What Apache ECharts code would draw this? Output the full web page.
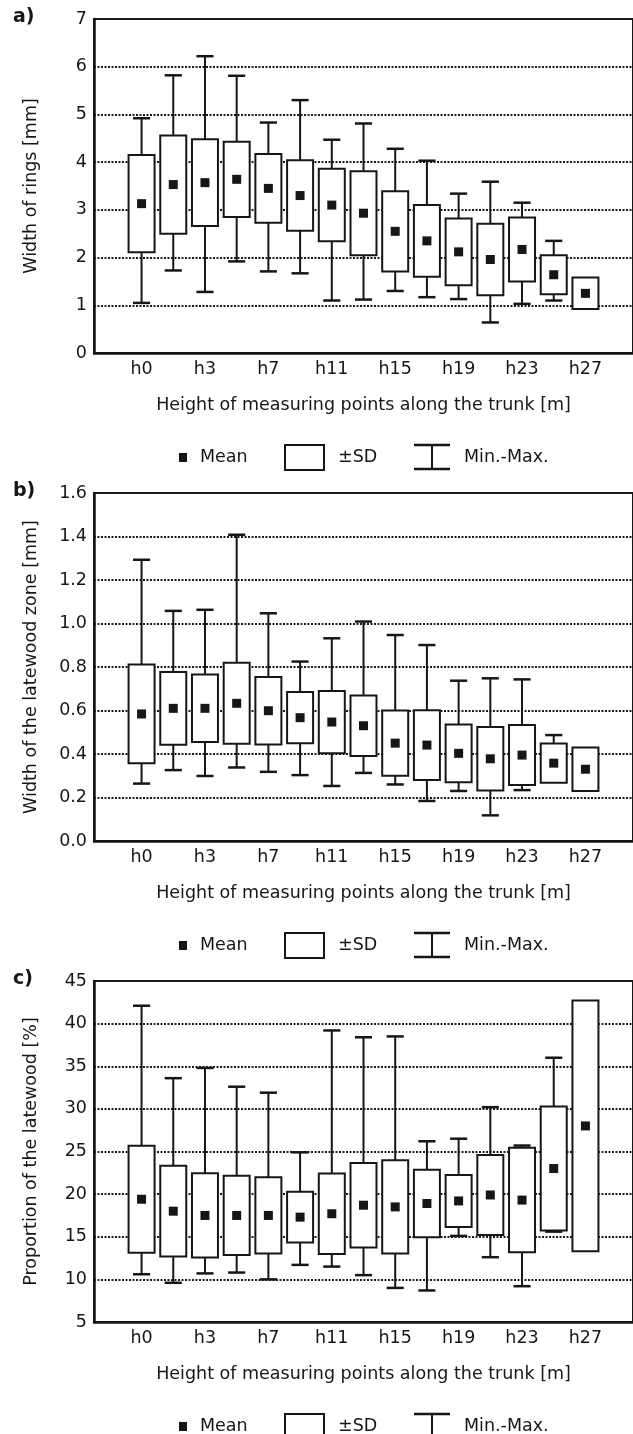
<!DOCTYPE html>
<html>
<head>
<meta charset="utf-8">
<title>Ring width and latewood along the trunk</title>
<script src="https://cdn.jsdelivr.net/npm/echarts@6/dist/echarts.min.js"></script>
<style>
  html, body { margin: 0; padding: 0; background: #fff; }
  #chart { width: 633px; height: 1434px; }
</style>
</head>
<body>
<div id="chart"></div>
<script>
// measuring heights along the trunk
const categories = ['h0', 'h1', 'h3', 'h5', 'h7', 'h9', 'h11', 'h13', 'h15', 'h17', 'h19', 'h21', 'h23', 'h25', 'h27']

// a) width of rings [mm]
const ringMean = [3.13, 3.53, 3.57, 3.64, 3.45, 3.30, 3.10, 2.93, 2.55, 2.35, 2.12, 1.96, 2.17, 1.64, 1.25]
const ringSd = [1.02, 1.03, 0.91, 0.79, 0.72, 0.74, 0.76, 0.88, 0.84, 0.75, 0.70, 0.75, 0.67, 0.41, 0.33]
const ringMin = [1.05, 1.73, 1.28, 1.92, 1.71, 1.67, 1.10, 1.12, 1.30, 1.17, 1.13, 0.64, 1.03, 1.10, null]
const ringMax = [4.92, 5.82, 6.22, 5.81, 4.83, 5.30, 4.47, 4.81, 4.28, 4.03, 3.34, 3.59, 3.15, 2.35, null]

// b) width of the latewood zone [mm]
const lateMean = [0.584, 0.610, 0.610, 0.633, 0.599, 0.567, 0.547, 0.530, 0.450, 0.441, 0.403, 0.378, 0.395, 0.358, 0.330]
const lateSd = [0.227, 0.167, 0.155, 0.186, 0.155, 0.118, 0.143, 0.139, 0.150, 0.160, 0.133, 0.146, 0.138, 0.090, 0.100]
const lateMin = [0.264, 0.326, 0.299, 0.338, 0.318, 0.303, 0.253, 0.313, 0.260, 0.184, 0.230, 0.118, 0.234, 0.276, null]
const lateMax = [1.293, 1.058, 1.063, 1.408, 1.047, 0.825, 0.932, 1.009, 0.947, 0.901, 0.737, 0.748, 0.743, 0.487, null]

// c) proportion of the latewood [%]
const propMean = [19.4, 18.0, 17.5, 17.5, 17.5, 17.3, 17.7, 18.7, 18.5, 18.9, 19.2, 19.9, 19.3, 23.0, 28.0]
const propSd = [6.27, 5.33, 4.94, 4.65, 4.47, 2.97, 4.72, 4.96, 5.46, 3.97, 3.05, 4.69, 6.13, 7.28, 14.7]
const propMin = [10.6, 9.6, 10.7, 10.8, 10.0, 11.7, 11.5, 10.5, 9.0, 8.7, 15.1, 12.6, 9.2, 15.6, null]
const propMax = [42.1, 33.6, 34.8, 32.6, 31.9, 24.9, 39.2, 38.4, 38.5, 26.2, 26.5, 30.2, 25.7, 36.0, null]

const FONT = 'DejaVu Sans'
const INK = '#161616'
const FS = 17.5

// padded axis: one empty slot on each side like the original frame
const axisCats = [''].concat(categories, [''])

const panels = [
  { tag: 'a)', title: 'Width of rings [mm]', top: 19, height: 334, min: 0, max: 7, step: 1, digits: 0,
    mean: ringMean, sd: ringSd, lo: ringMin, hi: ringMax },
  { tag: 'b)', title: 'Width of the latewood zone [mm]', top: 493, height: 348, min: 0, max: 1.6, step: 0.2, digits: 1,
    mean: lateMean, sd: lateSd, lo: lateMin, hi: lateMax },
  { tag: 'c)', title: 'Proportion of the latewood [%]', top: 981, height: 341, min: 5, max: 45, step: 5, digits: 0,
    mean: propMean, sd: propSd, lo: propMin, hi: propMax }
]

function renderBox (params, api) {
  const i = api.value(0)
  const mean = api.value(1)
  const sd = api.value(2)
  const lo = api.value(3)
  const hi = api.value(4)
  const band = api.size([1, 0])[0]
  const boxW = band * 0.82
  const capW = band * 0.54
  const dot = 9
  const c = api.coord([i, mean])
  const yTop = api.coord([i, mean + sd])[1]
  const yBot = api.coord([i, mean - sd])[1]
  const stroke = { stroke: INK, lineWidth: 2 }
  const kids = []
  if (hi != null && !isNaN(hi)) {
    const y = api.coord([i, hi])[1]
    kids.push({ type: 'line', shape: { x1: c[0], y1: yTop, x2: c[0], y2: y }, style: stroke })
    kids.push({ type: 'line', shape: { x1: c[0] - capW / 2, y1: y, x2: c[0] + capW / 2, y2: y }, style: { stroke: INK, lineWidth: 2.5 } })
  }
  if (lo != null && !isNaN(lo)) {
    const y = api.coord([i, lo])[1]
    kids.push({ type: 'line', shape: { x1: c[0], y1: yBot, x2: c[0], y2: y }, style: stroke })
    kids.push({ type: 'line', shape: { x1: c[0] - capW / 2, y1: y, x2: c[0] + capW / 2, y2: y }, style: { stroke: INK, lineWidth: 2.5 } })
  }
  kids.push({ type: 'rect', shape: { x: c[0] - boxW / 2, y: yTop, width: boxW, height: yBot - yTop },
    style: { fill: '#fff', stroke: INK, lineWidth: 2 } })
  kids.push({ type: 'rect', shape: { x: c[0] - dot / 2, y: c[1] - dot / 2, width: dot, height: dot },
    style: { fill: INK } })
  return { type: 'group', children: kids }
}

function legendRow (cy) {
  const txt = (x, s) => ({ type: 'text', x: x, y: cy, style: { text: s, fill: INK, font: FS + 'px "' + FONT + '"', verticalAlign: 'middle' } })
  return [
    { type: 'rect', shape: { x: 179, y: cy - 4, width: 8, height: 9 }, style: { fill: INK } },
    txt(200, 'Mean'),
    { type: 'rect', shape: { x: 285, y: cy - 12, width: 39, height: 25 }, style: { fill: 'none', stroke: INK, lineWidth: 2 } },
    txt(338, '±SD'),
    { type: 'polyline', shape: { points: [[414, cy - 12], [450, cy - 12]] }, style: { stroke: INK, lineWidth: 2.5 } },
    { type: 'polyline', shape: { points: [[432, cy - 12], [432, cy + 12]] }, style: { stroke: INK, lineWidth: 2 } },
    { type: 'polyline', shape: { points: [[414, cy + 12], [450, cy + 12]] }, style: { stroke: INK, lineWidth: 2.5 } },
    txt(464, 'Min.-Max.')
  ]
}

const grid = []
const xAxis = []
const yAxis = []
const series = []
const graphic = []

panels.forEach((p, k) => {
  grid.push({ left: 94, top: p.top, width: 543, height: p.height, show: true, borderColor: INK, borderWidth: 2, backgroundColor: '#fff' })
  xAxis.push({
    type: 'category', gridIndex: k, data: axisCats, boundaryGap: true, position: 'bottom',
    axisLine: { lineStyle: { color: INK, width: 2.5 } },
    axisTick: { inside: true, alignWithLabel: true, interval: 0, length: 4, lineStyle: { color: INK, width: 1.5 } },
    axisLabel: { interval: (idx) => idx % 2 === 1, margin: 7, color: INK, fontFamily: FONT, fontSize: FS },
    name: 'Height of measuring points along the trunk [m]', nameLocation: 'middle', nameGap: 43,
    nameTextStyle: { color: INK, fontFamily: FONT, fontSize: FS }
  })
  xAxis.push({
    type: 'category', gridIndex: k, data: axisCats, boundaryGap: true, position: 'top',
    axisLine: { show: false },
    axisTick: { inside: true, alignWithLabel: true, interval: 0, length: 4, lineStyle: { color: INK, width: 1.5 } },
    axisLabel: { show: false }
  })
  yAxis.push({
    type: 'value', gridIndex: k, min: p.min, max: p.max, interval: p.step,
    axisLine: { show: true, lineStyle: { color: INK, width: 2.5 } },
    axisTick: { show: false },
    axisLabel: { margin: 7, color: INK, fontFamily: FONT, fontSize: FS, formatter: (v) => v.toFixed(p.digits) },
    splitLine: { show: true, lineStyle: { color: '#1a1a1a', width: 2, type: [2, 1.5] } },
    name: p.title, nameLocation: 'middle', nameGap: 54, nameRotate: 90,
    nameTextStyle: { color: INK, fontFamily: FONT, fontSize: FS }
  })
  series.push({
    type: 'custom', xAxisIndex: k * 2, yAxisIndex: k, clip: false,
    renderItem: renderBox,
    encode: { x: 0, y: [1, 3, 4] },
    data: categories.map((c, i) => [i + 1, p.mean[i], p.sd[i], p.lo[i], p.hi[i]]),
    z: 5
  })
  graphic.push({ type: 'text', x: 13, y: p.top - 2, style: { text: p.tag, fill: INK, font: 'bold 19px "' + FONT + '"', verticalAlign: 'middle' } })
  legendRow(p.top + p.height + 104).forEach((g) => graphic.push(g))
})

const chart = echarts.init(document.getElementById('chart'), null, { renderer: 'canvas' })
chart.setOption({
  backgroundColor: '#fff',
  animation: false,
  grid: grid,
  xAxis: xAxis,
  yAxis: yAxis,
  series: series,
  graphic: graphic
})
</script>
</body>
</html>
